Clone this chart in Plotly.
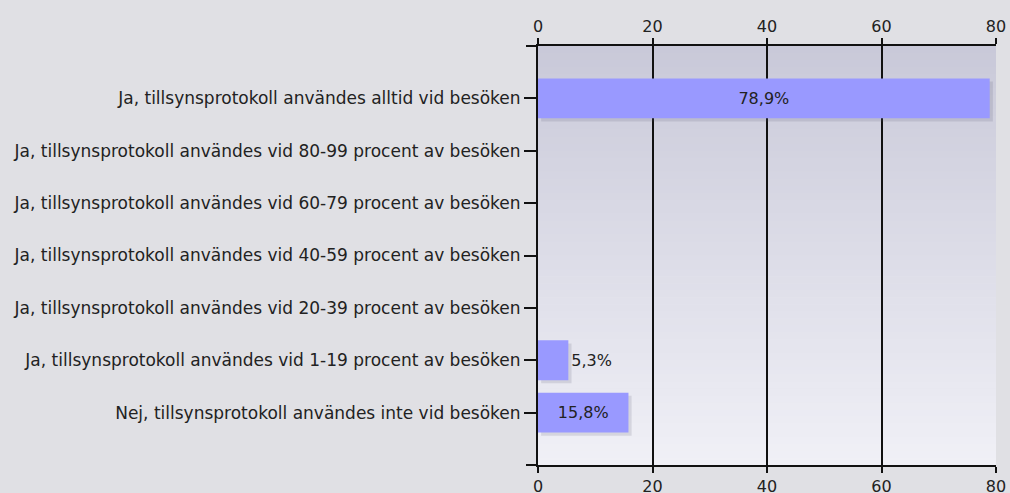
import plotly.graph_objects as go

categories = [
    "Ja, tillsynsprotokoll användes alltid vid besöken",
    "Ja, tillsynsprotokoll användes vid 80-99 procent av besöken",
    "Ja, tillsynsprotokoll användes vid 60-79 procent av besöken",
    "Ja, tillsynsprotokoll användes vid 40-59 procent av besöken",
    "Ja, tillsynsprotokoll användes vid 20-39 procent av besöken",
    "Ja, tillsynsprotokoll användes vid 1-19 procent av besöken",
    "Nej, tillsynsprotokoll användes inte vid besöken",
]
values = [78.9, 0, 0, 0, 0, 5.3, 15.8]
x_ticks = [0, 20, 40, 60, 80]

labels = [(f"{v:.1f}%".replace(".", ",") if v > 0 else "") for v in values]

FONT = "DejaVu Sans"
TXT = "#222222"
FS = 17

fig = go.Figure()

# subtle drop shadow
fig.add_trace(go.Bar(
    y=categories, x=values, base=[0.55] * len(values), orientation="h",
    width=0.76, offset=-0.38 + 0.06,
    marker=dict(color="rgba(90,90,110,0.16)", line=dict(width=0)),
    hoverinfo="skip", showlegend=False,
))

fig.add_trace(go.Bar(
    y=categories, x=values, orientation="h",
    width=0.76, offset=-0.38,
    marker=dict(color="#9999ff", line=dict(width=0)),
    text=labels, textposition="auto", insidetextanchor="middle",
    textfont=dict(family=FONT, size=16, color=TXT),
    outsidetextfont=dict(family=FONT, size=16, color=TXT),
    insidetextfont=dict(family=FONT, size=16, color=TXT),
    cliponaxis=False, showlegend=False,
))

# invisible trace for top axis
fig.add_trace(go.Scatter(x=[0], y=[categories[0]], xaxis="x2", mode="markers",
                         marker=dict(opacity=0), hoverinfo="skip", showlegend=False))

# gradient background for plot area
n = 60
top = (201, 201, 217)
bot = (240, 240, 246)
shapes = []
for i in range(n):
    t = i / (n - 1)
    c = tuple(round(top[k] + (bot[k] - top[k]) * t) for k in range(3))
    shapes.append(dict(type="rect", xref="paper", yref="paper",
                       x0=0, x1=1, y1=1 - i / n, y0=1 - (i + 1) / n - 0.001,
                       fillcolor=f"rgb{c}", line=dict(width=0), layer="below"))
# axis line extensions to the left (end ticks)
for yy in (0, 1):
    shapes.append(dict(type="line", xref="paper", yref="paper",
                       x0=-12 / 458, x1=0, y0=yy, y1=yy,
                       line=dict(color="#111111", width=2)))
fig.update_layout(shapes=shapes)

axis_common = dict(
    range=[0, 80], tickvals=x_ticks, showgrid=True, gridcolor="#111111", gridwidth=2,
    showline=True, linecolor="#111111", linewidth=2, ticks="outside", ticklen=6,
    tickwidth=2, tickcolor="#111111", zeroline=False, automargin=False,
    tickfont=dict(family=FONT, size=16, color=TXT),
)
fig.update_layout(
    width=1010, height=493,
    margin=dict(l=538, r=14, t=46, b=28, autoexpand=False),
    paper_bgcolor="#e0e0e4", plot_bgcolor="#e6e6ee",
    barmode="overlay",
    xaxis=dict(side="bottom", mirror=False, **axis_common),
    xaxis2=dict(side="top", overlaying="x", matches="x", **axis_common),
    yaxis=dict(type="category", categoryarray=categories, range=[7, -1],
               showgrid=False, showline=True, linecolor="#111111", linewidth=2,
               ticks="outside", ticklen=12, tickwidth=1.5, tickcolor="#111111",
               automargin=False,
               tickfont=dict(family=FONT, size=FS, color=TXT), zeroline=False),
    font=dict(family=FONT, color=TXT),
)

fig.write_html(
    "out.html",
    config={"displayModeBar": False},
    post_script="document.body.style.margin='0';document.body.style.background='#e0e0e4';document.body.style.overflow='hidden';",
)
